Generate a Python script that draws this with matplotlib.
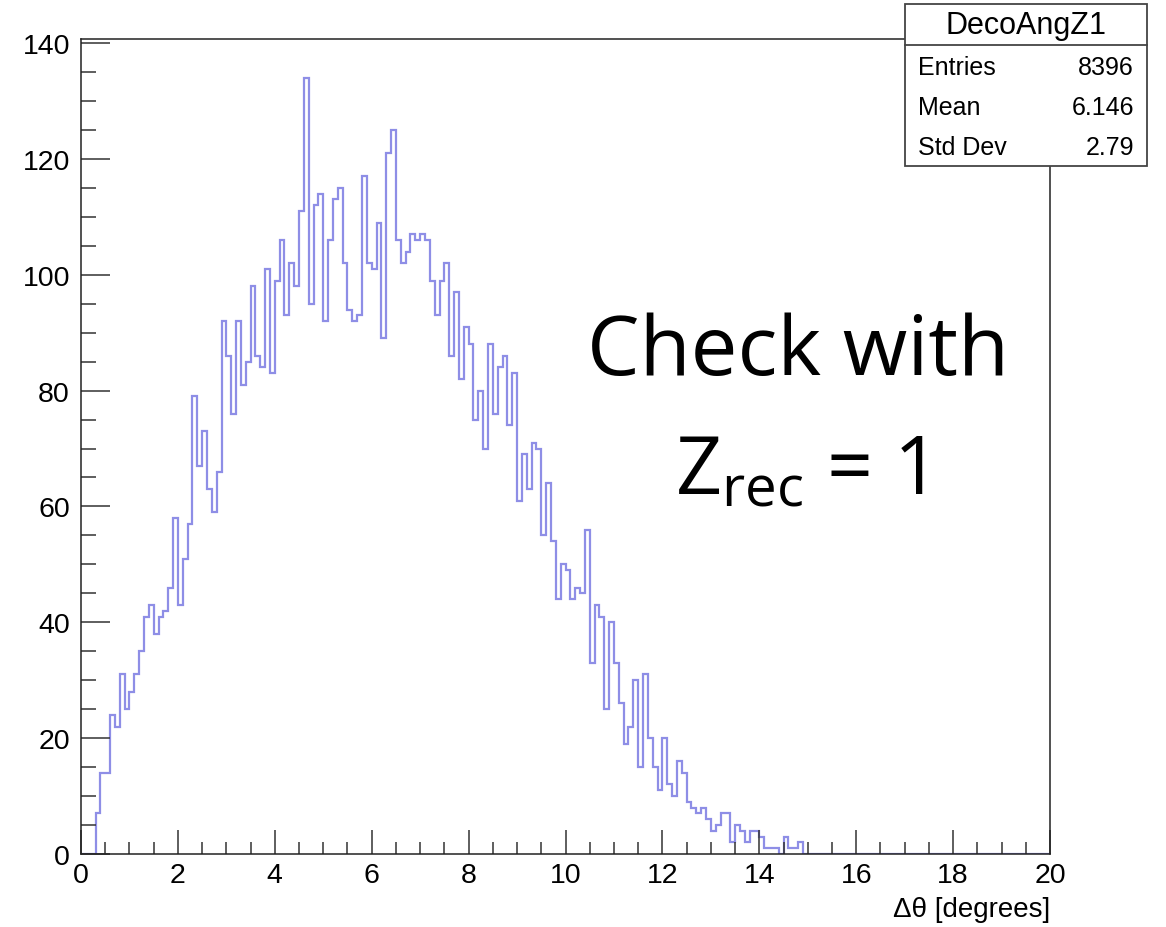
import matplotlib
matplotlib.use("Agg")
import matplotlib.pyplot as plt
from matplotlib.patches import Rectangle
from matplotlib.lines import Line2D
from matplotlib.ticker import MultipleLocator
import numpy as np

plt.rcParams['font.family'] = ['Liberation Sans', 'DejaVu Sans']

# histogram DecoAngZ1: 0.1 degree bins starting at 0
bin_width = 0.1
counts = [0, 0, 0, 7, 14, 14, 24, 22, 31, 25,
          28, 31, 35, 41, 43, 38, 41, 42, 46, 58,
          43, 51, 57, 79, 67, 73, 63, 59, 66, 92,
          86, 76, 92, 81, 85, 98, 86, 84, 101, 83,
          99, 106, 93, 102, 98, 111, 134, 95, 112, 114,
          92, 106, 113, 115, 102, 94, 92, 93, 117, 102,
          101, 109, 89, 121, 125, 106, 102, 104, 107, 106,
          107, 106, 99, 93, 99, 102, 86, 97, 82, 91,
          88, 75, 80, 70, 88, 76, 84, 86, 74, 83,
          61, 69, 63, 71, 70, 55, 64, 54, 44, 50,
          49, 44, 46, 45, 56, 33, 43, 41, 25, 40,
          33, 26, 19, 22, 30, 15, 31, 20, 15, 11,
          20, 12, 10, 16, 14, 9, 8, 7, 8, 6,
          4, 5, 7, 7, 2, 5, 4, 2, 4, 4,
          3, 1, 1, 1, 0, 3, 1, 1, 2, 0]
n_bins = 200
x_range = (0, 20)

stat_names = ['Entries', 'Mean', 'Std Dev']
stat_values = ['8396', '6.146', '2.79']
hist_name = 'DecoAngZ1'

vals = np.zeros(n_bins)
vals[:len(counts)] = counts
edges = x_range[0] + bin_width * np.arange(n_bins + 1)

fig = plt.figure(figsize=(11.66, 9.28), dpi=100)
W, H = 1166, 928
ax = fig.add_axes([81 / W, 1 - 855 / H, (1050 - 81) / W, (855 - 40) / H])

ax.stairs(vals, edges, color='#8e8ee6', lw=1.6)

ax.set_xlim(*x_range)
ax.set_ylim(0, 1.05 * max(counts))

ax.xaxis.set_major_locator(MultipleLocator(2))
ax.xaxis.set_minor_locator(MultipleLocator(0.5))
ax.yaxis.set_major_locator(MultipleLocator(20))
ax.yaxis.set_minor_locator(MultipleLocator(5))

ax.tick_params(axis='both', which='both', direction='in', top=False, right=False,
               color='#333333', width=1.1, labelsize=20.5)
ax.tick_params(axis='x', which='major', length=17, pad=6)
ax.tick_params(axis='x', which='minor', length=8.5)
ax.tick_params(axis='y', which='major', length=21, pad=8)
ax.tick_params(axis='y', which='minor', length=10.5)
for s in ax.spines.values():
    s.set_linewidth(1.1)
    s.set_color('#222222')

ax.set_xlabel('\u0394\u03b8 [degrees]', fontsize=20, ha='right')
ax.xaxis.set_label_coords(1.0, -0.052)

# stats box
bx0, bx1, by0, by1, bsep = 905, 1147, 5, 167, 46
fig.add_artist(Rectangle((bx0 / W, 1 - by1 / H), (bx1 - bx0) / W, (by1 - by0) / H,
                         transform=fig.transFigure, facecolor='white',
                         edgecolor='#444444', lw=1.3, zorder=5))
fig.add_artist(Line2D([bx0 / W, bx1 / W], [1 - bsep / H, 1 - bsep / H],
                      transform=fig.transFigure, color='#444444', lw=1.3, zorder=6))
fig.text((bx0 + bx1) / 2 / W, 1 - 26 / H, hist_name, fontsize=22,
         ha='center', va='center', zorder=7)
for i, (nm, v) in enumerate(zip(stat_names, stat_values)):
    yc = 1 - (68 + 40 * i) / H
    fig.text(918 / W, yc, nm, fontsize=18, ha='left', va='center', zorder=7)
    fig.text(1134 / W, yc, v, fontsize=18, ha='right', va='center', zorder=7)

# annotation
fig.text(798 / W, 1 - 375 / H, 'Check with', fontsize=60, family='Open Sans',
         ha='center', va='baseline')
fig.text(799 / W, 1 - 495 / H, r'$\mathregular{Z_{rec}}$ = 1', fontsize=58,
         family='Open Sans', ha='center', va='baseline')

fig.savefig('out.png', dpi=100)
